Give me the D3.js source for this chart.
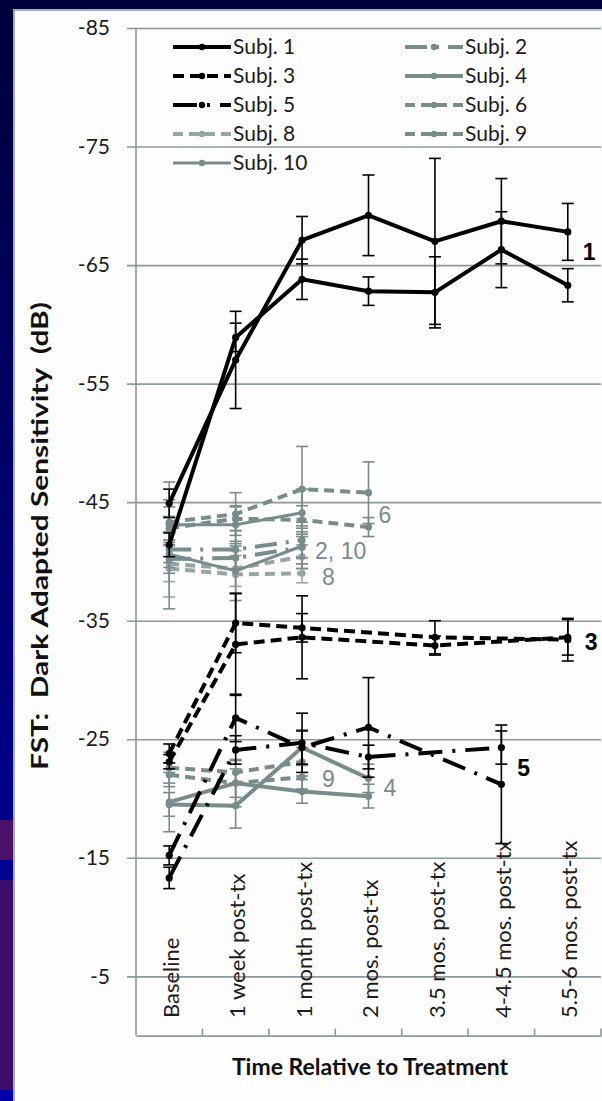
<!DOCTYPE html>
<html>
<head>
<meta charset="utf-8">
<script src="https://cdn.jsdelivr.net/npm/d3@7"></script>
<style>
  html, body { margin: 0; padding: 0; background: #00003a; }
  svg { display: block; }
</style>
</head>
<body>
<svg id="chart" width="602" height="1101"></svg>
<script>
const categories = ["Baseline", "1 week post-tx", "1 month post-tx", "2 mos. post-tx",
  "3.5 mos. post-tx", "4-4.5 mos. post-tx", "5.5-6 mos. post-tx"];
const yTicks = [-85, -75, -65, -55, -45, -35, -25, -15, -5];

// two eyes per subject, null = not measured
const subj1a = [-44.9, -57.0, -67.1, -69.2, -67.0, -68.7, -67.8];
const subj1aErr = [1.2, 4.1, 2.0, 3.4, 7.0, 3.6, 2.4];
const subj1b = [-41.4, -58.9, -63.8, -62.8, -62.7, -66.3, -63.3];
const subj1bErr = [1.0, 1.2, 1.7, 1.2, 3.0, 3.2, 1.4];
const subj2a = [-41.0, -41.0, -41.8];
const subj2aErr = [1.5, 1.6, 1.5];
const subj2b = [-40.2, -40.3, -41.2];
const subj2bErr = [1.2, 1.0, 1.8];
const subj3a = [-23.8, -34.8, -34.4, null, -33.6, null, -33.4];
const subj3aErr = [0.8, 2.5, 1.2, null, 1.4, null, 1.8];
const subj3b = [-23.1, -33.0, -33.6, null, -32.9, null, -33.6];
const subj3bErr = [0.6, 4.3, 3.5, null, 0.8, null, 1.5];
const subj4a = [-19.5, -19.4, -24.3, -21.7];
const subj4aErr = [1.0, 1.9, 1.5, 1.2];
const subj4b = [-19.7, -21.3, -20.6, -20.2];
const subj4bErr = [2.5, 2.0, 1.0, 1.0];
const subj5a = [-15.2, -26.8, -24.3, -26.0, null, -21.2, null];
const subj5aErr = [0.8, 2.0, 1.4, 4.2, null, 5.0, null];
const subj5b = [-13.3, -24.1, -24.7, -23.5, null, -24.3, null];
const subj5bErr = [0.9, 1.2, 2.5, 1.0, null, 1.4, null];
const subj6a = [-43.3, -44.0, -46.1, -45.8];
const subj6aErr = [3.4, 1.8, 3.6, 2.6];
const subj6b = [-42.8, -43.6, -43.5, -42.9];
const subj6bErr = [1.0, 1.0, 1.2, 0.8];
const subj8a = [-39.4, -38.9, -39.0];
const subj8aErr = [2.4, 1.6, 0.8];
const subj8b = [-39.8, -39.4, -40.4];
const subj8bErr = [1.5, 1.5, 1.0];
const subj9a = [-22.6, -22.2, -23.1];
const subj9aErr = [1.3, 1.0, 1.2];
const subj9b = [-22.0, -21.3, -21.8];
const subj9bErr = [1.0, 1.2, 1.0];
const subj10a = [-43.1, -43.1, -44.1];
const subj10aErr = [1.5, 1.6, 2.0];
const subj10b = [-40.6, -39.2, -41.3];
const subj10bErr = [4.6, 2.5, 1.5];

const legendNames = ["Subj. 1", "Subj. 2", "Subj. 3", "Subj. 4", "Subj. 5",
  "Subj. 6", "Subj. 8", "Subj. 9", "Subj. 10"];

// end-of-line labels: text, category index, value
const endLabels = [
  { text: "1", cat: 6, value: -66.1, dark: true, dx: 15 },
  { text: "3", cat: 6, value: -33.2, dark: true, dx: 17 },
  { text: "5", cat: 5, value: -22.6, dark: true, dx: 16 },
  { text: "6", cat: 3, value: -43.9, dark: false, dx: 10 },
  { text: "2, 10", cat: 2, value: -40.9, dark: false, dx: 13 },
  { text: "8", cat: 2, value: -38.7, dark: false, dx: 20 },
  { text: "9", cat: 2, value: -21.7, dark: false, dx: 20 },
  { text: "4", cat: 3, value: -20.9, dark: false, dx: 15 }
];

const gray = "#7a8b8b";
const styles = {
  "Subj. 1": { color: "#000", width: 4, dash: null },
  "Subj. 2": { color: gray, width: 4, dash: "22,9,3,9" },
  "Subj. 3": { color: "#000", width: 4, dash: "11,6" },
  "Subj. 4": { color: gray, width: 4, dash: null },
  "Subj. 5": { color: "#000", width: 4, dash: "24,10,3,10" },
  "Subj. 6": { color: gray, width: 4, dash: "10,6" },
  "Subj. 8": { color: "#98a5a5", width: 4, dash: "10,6" },
  "Subj. 9": { color: gray, width: 4, dash: "10,6" },
  "Subj. 10": { color: gray, width: 3, dash: null }
};

// drawing order: gray first, black on top
const series = [
  ["Subj. 8", subj8a, subj8aErr], ["Subj. 8", subj8b, subj8bErr],
  ["Subj. 10", subj10a, subj10aErr], ["Subj. 10", subj10b, subj10bErr],
  ["Subj. 2", subj2a, subj2aErr], ["Subj. 2", subj2b, subj2bErr],
  ["Subj. 6", subj6a, subj6aErr], ["Subj. 6", subj6b, subj6bErr],
  ["Subj. 9", subj9a, subj9aErr], ["Subj. 9", subj9b, subj9bErr],
  ["Subj. 4", subj4a, subj4aErr], ["Subj. 4", subj4b, subj4bErr],
  ["Subj. 5", subj5a, subj5aErr], ["Subj. 5", subj5b, subj5bErr],
  ["Subj. 3", subj3a, subj3aErr], ["Subj. 3", subj3b, subj3bErr],
  ["Subj. 1", subj1a, subj1aErr], ["Subj. 1", subj1b, subj1bErr]
].map(([name, vals, errs]) => ({
  name,
  points: vals.map((v, i) => ({ cat: categories[i], v, e: errs[i] })).filter(p => p.v != null)
}));

const svg = d3.select("#chart");
const font = "Lato, 'Open Sans', sans-serif";

// background: slide strip + white panel
const defs = svg.append("defs");
const grad = defs.append("linearGradient").attr("id", "strip")
  .attr("x1", 0).attr("y1", 0).attr("x2", 0).attr("y2", 1);
grad.append("stop").attr("offset", "0%").attr("stop-color", "#00003a");
grad.append("stop").attr("offset", "100%").attr("stop-color", "#0000a8");
svg.append("rect").attr("width", 602).attr("height", 1101).attr("fill", "url(#strip)");
svg.append("rect").attr("width", 602).attr("height", 10).attr("fill", "#00003a");
svg.append("rect").attr("x", 0).attr("y", 820).attr("width", 13).attr("height", 40).attr("fill", "#4a1168");
svg.append("rect").attr("x", 0).attr("y", 880).attr("width", 13).attr("height", 210).attr("fill", "#3d0f6a");
svg.append("rect").attr("x", 14).attr("y", 10).attr("width", 600).attr("height", 1100)
  .attr("fill", "#fdfdfd").attr("stroke", "#a8acac").attr("stroke-width", 2);

const x = d3.scaleBand().domain(categories).range([136, 601]).padding(0);
const y = d3.scaleLinear().domain([0, -85]).range([1035.6, 28]);
const cx = c => x(c) + x.bandwidth() / 2;

// y axis with gridlines
const yAxis = svg.append("g").attr("transform", "translate(127,0)")
  .call(d3.axisLeft(y).tickValues(yTicks).tickFormat(d => String(d))
    .tickSizeInner(-(601 - 127)).tickSizeOuter(0).tickPadding(17));
yAxis.select(".domain").remove();
yAxis.selectAll(".tick line").attr("stroke", "#8a9999").attr("stroke-width", 1.6);
yAxis.selectAll(".tick text").attr("font-family", font).attr("font-size", 21)
  .attr("fill", "#1c1c1c");

svg.append("line").attr("x1", 136).attr("x2", 136).attr("y1", y(-85)).attr("y2", y(0))
  .attr("stroke", "#8a9999").attr("stroke-width", 1.6);

// x axis
const xAxis = svg.append("g").attr("transform", `translate(0,${y(0)})`)
  .call(d3.axisBottom(x).tickSize(0).tickFormat(""));
xAxis.select(".domain").attr("stroke", "#8a9999").attr("stroke-width", 1.6);
svg.append("g").selectAll("line").data(categories).join("line")
  .attr("x1", d => x(d) + x.bandwidth()).attr("x2", d => x(d) + x.bandwidth())
  .attr("y1", y(0)).attr("y2", y(0) - 7)
  .attr("stroke", "#8a9999").attr("stroke-width", 1.6);
svg.append("g").selectAll("text").data(categories).join("text")
  .attr("transform", d => `translate(${cx(d) + 2},1018) rotate(-90)`)
  .attr("dy", "0.35em")
  .attr("font-family", font).attr("font-size", 22).attr("fill", "#1c1c1c")
  .text(d => d);

// axis titles
svg.append("text").attr("transform", "translate(40,536) rotate(-90)")
  .attr("dy", "0.35em").attr("text-anchor", "middle")
  .attr("font-family", font).attr("font-weight", 700).attr("font-size", 22)
  .attr("fill", "#111").attr("xml:space", "preserve")
  .attr("textLength", 468).attr("lengthAdjust", "spacingAndGlyphs")
  .text("FST:  Dark Adapted Sensitivity  (dB)");
svg.append("text").attr("x", 370).attr("y", 1075).attr("text-anchor", "middle")
  .attr("font-family", font).attr("font-weight", 700).attr("font-size", 23)
  .attr("fill", "#111")
  .text("Time Relative to Treatment");

// series
const line = d3.line().x(p => cx(p.cat)).y(p => y(p.v));
const g = svg.append("g");
series.forEach(s => {
  const st = styles[s.name];
  const sg = g.append("g");
  sg.selectAll("g.err").data(s.points.filter(p => p.e)).join("g").attr("class", "err")
    .each(function (p) {
      const eg = d3.select(this);
      const px = cx(p.cat);
      eg.append("line").attr("x1", px).attr("x2", px)
        .attr("y1", y(p.v - p.e)).attr("y2", y(p.v + p.e));
      [p.v - p.e, p.v + p.e].forEach(v => eg.append("line")
        .attr("x1", px - 6).attr("x2", px + 6).attr("y1", y(v)).attr("y2", y(v)));
    })
    .attr("stroke", st.color).attr("stroke-width", 1.6);
  sg.append("path").datum(s.points).attr("d", line)
    .attr("fill", "none").attr("stroke", st.color).attr("stroke-width", st.width)
    .attr("stroke-dasharray", st.dash).attr("stroke-linejoin", "round");
  sg.selectAll("circle").data(s.points).join("circle")
    .attr("cx", p => cx(p.cat)).attr("cy", p => y(p.v)).attr("r", 3.6)
    .attr("fill", st.color);
});

// end labels
svg.append("g").selectAll("text").data(endLabels).join("text")
  .attr("x", d => cx(categories[d.cat]) + d.dx).attr("y", d => y(d.value))
  .attr("dy", "0.36em")
  .attr("font-family", "'Liberation Sans', Arial, sans-serif").attr("font-size", 23)
  .attr("font-weight", d => d.dark ? 700 : 400)
  .attr("fill", d => d.dark ? "#000" : gray)
  .text(d => d.text);

// legend
const lg = svg.append("g");
legendNames.forEach((name, i) => {
  const col = i % 2, row = Math.floor(i / 2);
  const lx = col ? 405 : 173, ly = 47 + row * 29;
  const st = styles[name];
  lg.append("line").attr("x1", lx).attr("x2", lx + 58).attr("y1", ly).attr("y2", ly)
    .attr("stroke", st.color).attr("stroke-width", st.width).attr("stroke-dasharray", st.dash);
  lg.append("circle").attr("cx", lx + 29).attr("cy", ly).attr("r", 3.2).attr("fill", st.color);
  lg.append("text").attr("x", lx + 60).attr("y", ly).attr("dy", "0.35em")
    .attr("font-family", font).attr("font-size", 21).attr("fill", "#1c1c1c")
    .text(name);
});
</script>
</body>
</html>
